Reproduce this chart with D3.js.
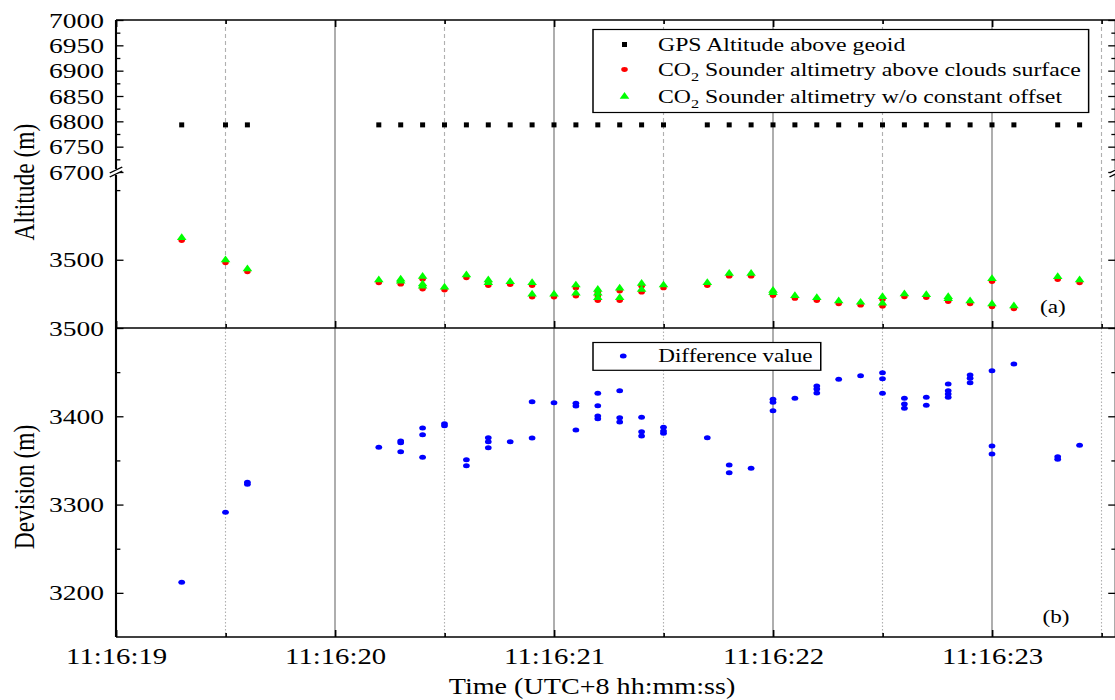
<!DOCTYPE html>
<html>
<head>
<meta charset="utf-8">
<script src="https://cdn.jsdelivr.net/npm/d3@7"></script>
<style>
  html, body { margin: 0; padding: 0; background: #fff; }
  svg { display: block; }
  text { font-family: "Liberation Serif", "Times New Roman", serif; fill: #000; }
</style>
</head>
<body>
<svg id="chart" width="1115" height="700"></svg>
<script>
// ---- time axis (seconds within 11:16, UTC+8) ----
const timeTicks = [19, 20, 21, 22, 23];
const timeTickLabels = ["11:16:19", "11:16:20", "11:16:21", "11:16:22", "11:16:23"];
const timeHalfTicks = [19.5, 20.5, 21.5, 22.5, 23.5];

// ---- altitude axis ticks ----
const altUpperTicks = [6700, 6750, 6800, 6850, 6900, 6950, 7000];
const altUpperMinor = [6725, 6775, 6825, 6875, 6925, 6975];
const altLowerTicks = [3500];
const altLowerMinor = [3550];
const devTicks = [3200, 3300, 3400, 3500];
const devMinor = [3250, 3350, 3450];

// ---- GPS altitude above geoid (m) ----
const gpsTimes = [19.3, 19.5, 19.6, 20.2, 20.3, 20.4, 20.5, 20.6, 20.7, 20.8, 20.9, 21.0, 21.1, 21.2,
  21.3, 21.4, 21.5, 21.7, 21.8, 21.9, 22.0, 22.1, 22.2, 22.3, 22.4, 22.5, 22.6, 22.7, 22.8, 22.9,
  23.0, 23.1, 23.3, 23.4];
const gpsAltitude = [6793, 6793, 6793, 6793, 6793, 6793, 6793, 6793, 6793, 6793, 6793, 6793, 6793, 6793,
  6793, 6793, 6793, 6793, 6793, 6793, 6793, 6793, 6793, 6793, 6793, 6793, 6793, 6793, 6793, 6793,
  6793, 6793, 6793, 6793];

// ---- CO2 sounder altimetry (m) ----
const co2Times = [19.3, 19.5, 19.6, 20.2, 20.3, 20.3, 20.4, 20.4, 20.4, 20.5, 20.6, 20.7, 20.7, 20.8,
  20.9, 20.9, 21.0, 21.1, 21.1, 21.2, 21.2, 21.2, 21.3, 21.3, 21.4, 21.4, 21.5, 21.7, 21.8, 21.9,
  22.0, 22.0, 22.1, 22.2, 22.3, 22.4, 22.5, 22.5, 22.6, 22.7, 22.8, 22.8, 22.9, 23.0, 23.0, 23.1,
  23.3, 23.4];
const co2AboveClouds = [3513.8, 3497.8, 3491.3, 3483.4, 3484.0, 3482.5, 3486.0, 3480.5, 3479.0, 3478.2,
  3487.0, 3483.4, 3481.5, 3482.2, 3481.5, 3473.2, 3473.2, 3479.8, 3473.9, 3476.7, 3473.9, 3470.7,
  3477.5, 3470.7, 3481.0, 3476.7, 3479.8, 3481.5, 3488.2, 3488.2, 3476.0, 3474.3, 3472.2, 3470.7,
  3468.4, 3467.4, 3471.4, 3466.7, 3473.4, 3472.9, 3471.4, 3470.0, 3468.4, 3484.4, 3466.2, 3464.8,
  3485.8, 3483.4];
const co2NoOffset = [3515.8, 3499.8, 3493.3, 3485.4, 3486.0, 3484.5, 3488.0, 3482.5, 3481.0, 3480.2,
  3489.0, 3485.4, 3483.5, 3484.2, 3483.5, 3475.2, 3475.2, 3481.8, 3475.9, 3478.7, 3475.9, 3472.7,
  3479.5, 3472.7, 3483.0, 3478.7, 3481.8, 3483.5, 3490.2, 3490.2, 3478.0, 3476.3, 3474.2, 3472.7,
  3470.4, 3469.4, 3473.4, 3468.7, 3475.4, 3474.9, 3473.4, 3472.0, 3470.4, 3486.4, 3468.2, 3466.8,
  3487.8, 3485.4];

// ---- difference value (m) ----
const diffTimes = [19.3, 19.5, 19.6, 19.6, 20.2, 20.3, 20.3, 20.3, 20.4, 20.4, 20.4, 20.5, 20.5,
  20.6, 20.6, 20.7, 20.7, 20.7, 20.8, 20.9, 20.9, 21.0, 21.1, 21.1, 21.1, 21.2, 21.2, 21.2, 21.2,
  21.3, 21.3, 21.3, 21.4, 21.4, 21.4, 21.5, 21.5, 21.5, 21.7, 21.8, 21.8, 21.9, 22.0, 22.0, 22.0,
  22.1, 22.2, 22.2, 22.2, 22.3, 22.4, 22.5, 22.5, 22.5, 22.6, 22.6, 22.6, 22.7, 22.7, 22.8, 22.8,
  22.8, 22.8, 22.9, 22.9, 22.9, 23.0, 23.0, 23.0, 23.1, 23.3, 23.3, 23.4];
const diffValues = [3212, 3291.3, 3325.3, 3323, 3364.9, 3372, 3370, 3359.9, 3386.7, 3379.2, 3353.6,
  3391.6, 3389.4, 3350.9, 3344, 3375.8, 3371.2, 3364.4, 3371.2, 3416.5, 3375.4, 3415.4, 3414.7,
  3411.7, 3384.5, 3426, 3412, 3400.3, 3397.3, 3429, 3398.4, 3393.5, 3398.9, 3382.6, 3377.7, 3387.5,
  3383.4, 3380.7, 3375.8, 3344.8, 3336, 3341, 3419.2, 3415.9, 3406.4, 3420.4, 3434.3, 3430.9,
  3426.4, 3441.9, 3446, 3449.4, 3442.6, 3426, 3420.4, 3413.9, 3409, 3421.5, 3412.5, 3436.6, 3429,
  3425.3, 3421.5, 3446.8, 3443, 3438, 3451.6, 3366.4, 3357.3, 3459.2, 3354.2, 3351.3, 3367.2];

// ---- layout ----
const SX = 1.25;                       // horizontal stretch of the whole figure
const plotLeft = 92.8, pxPerSec = 175.2;
const tMin = 19, tMax = 23.565;
const panelTop = 20, breakY = 172, panelMid = 328, panelBottom = 637;

const svg = d3.select("#chart");
const g = svg.append("g").attr("transform", `scale(${SX},1)`);

const x = d3.scaleLinear().domain([tMin, tMax]).range([plotLeft, plotLeft + (tMax - tMin) * pxPerSec]);
const plotRight = x(tMax);
const yHi = d3.scaleLinear().domain([6700, 7000]).range([breakY, panelTop]);
const yLo = d3.scaleLinear().domain([3451, 3563]).range([panelMid, breakY]);
const yDev = d3.scaleLinear().domain([3150, 3500]).range([panelBottom, panelMid]);

// ---- grid lines ----
function grid(y0, y1, dash) {
  g.append("g").selectAll("line.major").data(timeTicks.filter(t => t > tMin)).join("line")
    .attr("x1", d => x(d)).attr("x2", d => x(d)).attr("y1", y0).attr("y2", y1)
    .attr("stroke", "#8a8a8a").attr("stroke-width", 1.1);
  g.append("g").selectAll("line.minor").data(timeHalfTicks).join("line")
    .attr("x1", d => x(d)).attr("x2", d => x(d)).attr("y1", y0).attr("y2", y1)
    .attr("stroke", "#b0b0b0").attr("stroke-width", 0.9).attr("stroke-dasharray", dash);
}
grid(panelTop, panelMid, "4,3");
grid(panelMid, panelBottom, "1.5,2");

// ---- axes helpers ----
function axisGroup(axis, tx, ty) {
  const a = g.append("g").attr("transform", `translate(${tx},${ty})`).call(axis);
  a.select(".domain").remove();
  a.selectAll(".tick line").attr("stroke", "#000").attr("stroke-width", 1.3);
  a.selectAll("text").attr("font-family", "Liberation Serif, Times New Roman, serif")
    .attr("fill", "#000");
  return a;
}
const fmtInt = d3.format("d");

// left: upper altitude segment
axisGroup(d3.axisLeft(yHi).tickValues(altUpperTicks).tickFormat(fmtInt).tickSize(-6).tickPadding(9.6), plotLeft, 0)
  .attr("font-size", 22);
axisGroup(d3.axisLeft(yHi).tickValues(altUpperMinor).tickFormat("").tickSize(-3.5), plotLeft, 0);
// left: lower altitude segment
axisGroup(d3.axisLeft(yLo).tickValues(altLowerTicks).tickFormat(fmtInt).tickSize(-6).tickPadding(9.6), plotLeft, 0)
  .attr("font-size", 22);
axisGroup(d3.axisLeft(yLo).tickValues(altLowerMinor).tickFormat("").tickSize(-3.5), plotLeft, 0);
// left: deviation
axisGroup(d3.axisLeft(yDev).tickValues(devTicks).tickFormat(fmtInt).tickSize(-6).tickPadding(9.6), plotLeft, 0)
  .attr("font-size", 22);
axisGroup(d3.axisLeft(yDev).tickValues(devMinor).tickFormat("").tickSize(-3.5), plotLeft, 0);

// right mirrored ticks
axisGroup(d3.axisRight(yHi).tickValues(altUpperTicks).tickFormat("").tickSize(-6), plotRight, 0);
axisGroup(d3.axisRight(yHi).tickValues(altUpperMinor).tickFormat("").tickSize(-3.5), plotRight, 0);
axisGroup(d3.axisRight(yLo).tickValues(altLowerTicks).tickFormat("").tickSize(-6), plotRight, 0);
axisGroup(d3.axisRight(yLo).tickValues(altLowerMinor).tickFormat("").tickSize(-3.5), plotRight, 0);
axisGroup(d3.axisRight(yDev).tickValues(devTicks).tickFormat("").tickSize(-6), plotRight, 0);
axisGroup(d3.axisRight(yDev).tickValues(devMinor).tickFormat("").tickSize(-3.5), plotRight, 0);

// time ticks
axisGroup(d3.axisTop(x).tickValues(timeTicks).tickFormat("").tickSize(-7), 0, panelTop);
axisGroup(d3.axisTop(x).tickValues(timeHalfTicks).tickFormat("").tickSize(-4), 0, panelTop);
axisGroup(d3.axisBottom(x).tickValues(timeTicks).tickFormat("").tickSize(-7), 0, panelMid);
axisGroup(d3.axisBottom(x).tickValues(timeHalfTicks).tickFormat("").tickSize(-4), 0, panelMid);
axisGroup(d3.axisBottom(x).tickValues(timeTicks)
    .tickFormat((d, i) => timeTickLabels[i]).tickSize(-7).tickPadding(11), 0, panelBottom)
  .attr("font-size", 23);
axisGroup(d3.axisBottom(x).tickValues(timeHalfTicks).tickFormat("").tickSize(-4), 0, panelBottom);

// ---- frames ----
const frame = g.append("g").attr("stroke", "#000").attr("stroke-width", 1.7).attr("fill", "none");
frame.append("line").attr("x1", plotLeft).attr("x2", plotRight).attr("y1", panelTop).attr("y2", panelTop);
frame.append("line").attr("x1", plotLeft).attr("x2", plotRight).attr("y1", panelMid).attr("y2", panelMid);
frame.append("line").attr("x1", plotLeft).attr("x2", plotRight).attr("y1", panelBottom).attr("y2", panelBottom);
[plotLeft, plotRight].forEach(px => {
  frame.append("line").attr("x1", px).attr("x2", px).attr("y1", panelTop).attr("y2", breakY - 3);
  frame.append("line").attr("x1", px).attr("x2", px).attr("y1", breakY + 3).attr("y2", panelBottom);
  // axis break mark
  const bk = g.append("g").attr("transform", `translate(${px},${breakY})`);
  bk.append("polygon").attr("points", "-5,5 5,-1 5,-5 -5,1").attr("fill", "#fff");
  bk.append("line").attr("x1", -5).attr("y1", 1).attr("x2", 5).attr("y2", -5)
    .attr("stroke", "#000").attr("stroke-width", 1.3);
  bk.append("line").attr("x1", -5).attr("y1", 5).attr("x2", 5).attr("y2", -1)
    .attr("stroke", "#000").attr("stroke-width", 1.3);
});

// ---- marks: panel (a) ----
const gps = gpsTimes.map((t, i) => ({ t, v: gpsAltitude[i] }));
const co2 = co2Times.map((t, i) => ({ t, cloud: co2AboveClouds[i], raw: co2NoOffset[i] }));
const diff = diffTimes.map((t, i) => ({ t, v: diffValues[i] }));

g.append("g").selectAll("rect").data(gps).join("rect")
  .attr("x", d => x(d.t) - 2).attr("y", d => yHi(d.v) - 2.5)
  .attr("width", 4).attr("height", 5).attr("fill", "#000");

g.append("g").selectAll("ellipse").data(co2).join("ellipse")
  .attr("cx", d => x(d.t)).attr("cy", d => yLo(d.cloud))
  .attr("rx", 2.6).attr("ry", 2.4).attr("fill", "#ff0000");

const tri = d3.symbol().type(d3.symbolTriangle).size(26);
g.append("g").selectAll("path").data(co2).join("path")
  .attr("d", tri)
  .attr("transform", d => `translate(${x(d.t)},${yLo(d.raw)})`)
  .attr("fill", "#00ff00");

// ---- marks: panel (b) ----
g.append("g").selectAll("ellipse").data(diff).join("ellipse")
  .attr("cx", d => x(d.t)).attr("cy", d => yDev(d.v))
  .attr("rx", 2.7).attr("ry", 2.5).attr("fill", "#0000ff");

// ---- legends ----
function co2Label(sel, rest) {
  sel.append("tspan").text("CO");
  sel.append("tspan").attr("font-size", 13).attr("dy", 5).text("2");
  sel.append("tspan").attr("dy", -5).text(rest);
}
const legA = g.append("g").attr("font-size", 19);
legA.append("rect").attr("x", 474.4).attr("y", 29.5).attr("width", 396.5).attr("height", 83)
  .attr("fill", "#fff").attr("stroke", "#000").attr("stroke-width", 1.2);
legA.append("rect").attr("x", 497.6).attr("y", 42).attr("width", 4).attr("height", 5).attr("fill", "#000");
legA.append("ellipse").attr("cx", 499.6).attr("cy", 69.5).attr("rx", 2.6).attr("ry", 2.4).attr("fill", "#ff0000");
legA.append("path").attr("d", tri).attr("transform", "translate(499.6,96.5)").attr("fill", "#00ff00");
legA.append("text").attr("x", 526.4).attr("y", 51).text("GPS Altitude above geoid");
co2Label(legA.append("text").attr("x", 526.4).attr("y", 76), " Sounder altimetry above clouds surface");
co2Label(legA.append("text").attr("x", 526.4).attr("y", 103), " Sounder altimetry w/o constant offset");

const legB = g.append("g").attr("font-size", 18.5);
legB.append("rect").attr("x", 474.4).attr("y", 342.5).attr("width", 182.2).attr("height", 27.8)
  .attr("fill", "#fff").attr("stroke", "#000").attr("stroke-width", 1.2);
legB.append("ellipse").attr("cx", 498.6).attr("cy", 356).attr("rx", 2.7).attr("ry", 2.5).attr("fill", "#0000ff");
legB.append("text").attr("x", 526.6).attr("y", 362.5).text("Difference value");

// panel tags
g.append("text").attr("x", 832).attr("y", 313.5).attr("font-size", 18.5).text("(a)");
g.append("text").attr("x", 834).attr("y", 623).attr("font-size", 18.5).text("(b)");

// ---- axis titles ----
g.append("text").attr("transform", "translate(473.6,694)")
  .attr("text-anchor", "middle").attr("font-size", 22.5).text("Time (UTC+8 hh:mm:ss)");
g.append("text").attr("transform", "translate(27,182) rotate(-90)")
  .attr("text-anchor", "middle").attr("font-size", 23.5).text("Altitude (m)");
g.append("text").attr("transform", "translate(27,487) rotate(-90)")
  .attr("text-anchor", "middle").attr("font-size", 23.5).text("Devision (m)");
</script>
</body>
</html>
